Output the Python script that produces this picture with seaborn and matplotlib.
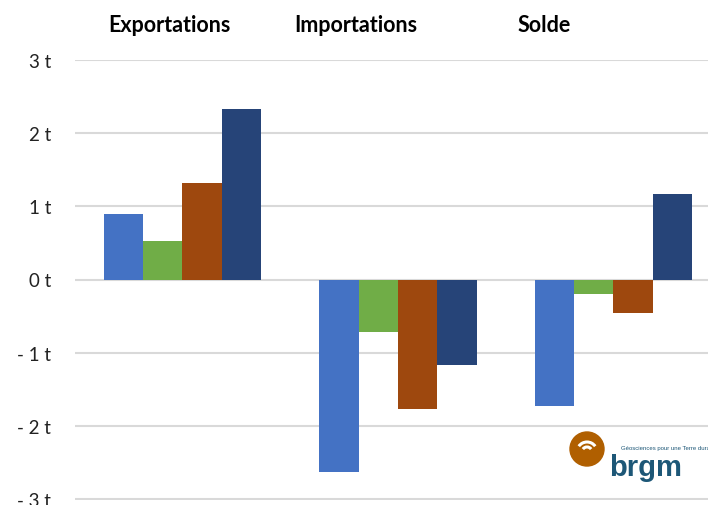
import numpy as np
import pandas as pd
import matplotlib.pyplot as plt
import seaborn as sns
from matplotlib.patches import Circle, Arc

# ── Data (tonnes) ────────────────────────────────────────────
flux = ['Exportations', 'Importations', 'Solde']
series = ['Série 1', 'Série 2', 'Série 3', 'Série 4']
serie_1 = [0.90, -2.62, -1.72]
serie_2 = [0.52, -0.72, -0.20]
serie_3 = [1.31, -1.77, -0.46]
serie_4 = [2.32, -1.16, 1.16]
colors = ['#4472C4', '#70AD47', '#9E480E', '#264478']
yticks = [-3, -2, -1, 0, 1, 2, 3]

rows = []
for name, vals in zip(series, [serie_1, serie_2, serie_3, serie_4]):
    for f, v in zip(flux, vals):
        rows.append([f, name, v])
df = pd.DataFrame(rows, columns=['Flux', 'Serie', 'Tonnes'])

# ── Plot ─────────────────────────────────────────────────────
sns.set_style('white')
plt.rcParams['font.family'] = ['Lato', 'DejaVu Sans']

W, H = 708, 506
fig = plt.figure(figsize=(W / 100, H / 100), dpi=100)
ax = fig.add_axes([74.75 / W, 1 - 500.5 / H, 646.25 / W, 440 / H])

sns.barplot(data=df, x='Flux', y='Tonnes', hue='Serie', order=flux,
            hue_order=series, palette=colors, saturation=1, width=0.73,
            linewidth=0, legend=False, ax=ax)

ax.set_xlim(-0.5, 2.5)
ax.set_ylim(-3, 3)
ax.set_yticks(yticks)
ax.set_yticklabels([f'- {abs(t)} t' if t < 0 else f'{t} t' for t in yticks],
                   fontsize=13.5, color='#222222')
ax.tick_params(axis='y', length=0, pad=17)
ax.set_xticks([])
ax.set_xlabel('')
ax.set_ylabel('')
ax.yaxis.grid(True, color='#D9D9D9', linewidth=1.5)
ax.set_axisbelow(True)
for s in ax.spines.values():
    s.set_visible(False)

# group titles above the plot
for label, xpix in zip(flux, [169.5, 356, 544.5]):
    fig.text(xpix / W, 1 - 25 / H, label, ha='center', va='center',
             fontsize=15.5, fontweight='bold', color='black')

# brgm logo, drawn in a pixel-coordinate overlay
lax = fig.add_axes([0, 0, 1, 1], zorder=10)
lax.set_xlim(0, W)
lax.set_ylim(H, 0)
lax.axis('off')
lax.patch.set_visible(False)
lax.add_patch(Circle((587, 450), 17, color='#B05F00'))
for r in [5, 10]:
    lax.add_patch(Arc((587, 453), 2 * r, 2 * r, theta1=215, theta2=325,
                      color='white', linewidth=2.2))
lax.text(609, 476, 'brgm', ha='left', va='baseline', fontsize=21,
         fontweight='bold', color='#1D5777',
         family=['Liberation Sans', 'DejaVu Sans'])
lax.text(621, 449, 'Géosciences pour une Terre durable', ha='left',
         va='center', fontsize=4.3, color='#1D5777',
         family=['Liberation Sans', 'DejaVu Sans'])

fig.savefig('out.png', dpi=100)
